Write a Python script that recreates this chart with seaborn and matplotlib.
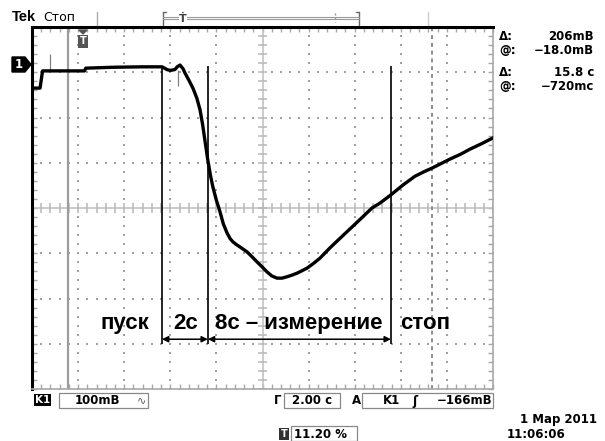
import numpy as np
import pandas as pd
import seaborn as sns
import matplotlib.pyplot as plt
from matplotlib.patches import Rectangle, Polygon
from matplotlib.lines import Line2D

# осциллограмма: 2 с/дел по горизонтали, 100 мВ/дел по вертикали
time_s = [0.0, 0.35, 0.42, 0.46, 2.28, 2.33, 3.5, 4.8, 5.64, 5.75, 5.85, 6.0,
          6.2, 6.3, 6.42, 6.55, 6.64, 6.8, 6.98, 7.15, 7.29, 7.40, 7.50, 7.63,
          7.75, 7.85, 8.0, 8.16, 8.3, 8.46, 8.6, 8.72, 8.87, 9.02, 9.33, 9.55,
          9.76, 10.0, 10.19, 10.4, 10.63, 10.85, 11.06, 11.3, 11.5, 11.7, 11.93,
          12.2, 12.49, 12.7, 12.93, 13.3, 13.8, 14.3, 14.75, 15.1, 15.57, 16.1,
          16.61, 17.0, 17.35, 17.7, 18.13, 18.6, 19.0, 19.5, 20.0]
volt_mv = [265, 265, 290, 303, 303, 309, 311, 312, 312, 309, 306, 304,
           306, 312, 316, 308, 298, 283, 265, 243, 217, 185, 150, 105,
           70, 46, 17, -9, -35, -55, -68, -75, -81, -86, -97, -108,
           -119, -131, -141, -150, -155, -155, -152, -148, -144, -139, -133,
           -123, -111, -100, -88, -70, -46, -22, 0, 11, 29, 51,
           70, 80, 88, 97, 108, 119, 130, 142, 155]

# вертикальные линии-разметки фаз и подписи
phase_t = [5.64, 7.63, 15.57]
phase_labels = ['пуск', '2с', '8с – измерение', 'стоп']
phase_label_t = [4.03, 6.68, 11.58, 17.05]

# курсоры прибора (Δ = 15.8 с)
scope_cursor_t = [1.56, 17.36]

readout_left = ['Δ:', '@:', 'Δ:', '@:']
readout_right = ['206mВ', '−18.0mВ', '15.8 с', '−720mс']

W, H = 605, 441


def px(x, y):
    return x / W, 1 - y / H


def fig_line(fig, xs, ys, **kw):
    fx = [x / W for x in xs]
    fy = [1 - y / H for y in ys]
    fig.add_artist(Line2D(fx, fy, transform=fig.transFigure, **kw))


def fig_box(fig, x0, y0, x1, y1, **kw):
    fig.add_artist(Rectangle((x0 / W, 1 - y1 / H), (x1 - x0) / W, (y1 - y0) / H,
                             transform=fig.transFigure, **kw))


sns.set_style('white')
plt.rcParams['font.family'] = ['DejaVu Sans']
plt.rcParams['text.color'] = 'black'

fig = plt.figure(figsize=(6.05, 4.41), dpi=100)
l, b = px(32, 389)
r, t = px(493, 27)
ax = fig.add_axes([l, b, r - l, t - b])
ax.set_xlim(0, 20)
ax.set_ylim(-400, 400)

# сетка из точек
dots_v = np.arange(-400, 401, 20)
dots_t = np.arange(0, 20.01, 0.4)
for gx in range(2, 20, 2):
    if gx != 10:
        ax.scatter(np.full(len(dots_v), gx), dots_v, s=1.6, marker='s', color='#a0a0a0', lw=0)
for gy in range(-300, 301, 100):
    if gy != 0:
        ax.scatter(dots_t, np.full(len(dots_t), gy), s=1.6, marker='s', color='#a0a0a0', lw=0)

# центральные оси с рисками
ax.axhline(0, color='#c4c4c4', lw=1.2, zorder=1)
ax.axvline(10, color='#c4c4c4', lw=1.2, zorder=1)
ax.vlines(dots_t, -10, 10, color='#b8b8b8', lw=1.1, zorder=1)
ax.hlines(dots_v, 9.82, 10.18, color='#b8b8b8', lw=1.1, zorder=1)

# курсоры прибора
ax.axvline(scope_cursor_t[0], color='#9c9c9c', lw=1.6, zorder=1)
ax.axvline(scope_cursor_t[1], color='#8c8c8c', lw=1.4, ls=(0, (2, 2)), zorder=1)

# сигнал
df = pd.DataFrame({'t': time_s, 'v': volt_mv})
sns.lineplot(data=df, x='t', y='v', sort=False, estimator=None, color='black', lw=2.4, ax=ax, zorder=3)
ax.vlines([0.78], 303, 340, color='#808080', lw=0.9)
ax.vlines([6.33], 270, 305, color='#808080', lw=0.9)

# разметка фаз
ax.vlines(phase_t, -301, 314, color='black', lw=1.2, zorder=4)
for a, c in zip(phase_t[:-1], phase_t[1:]):
    ax.annotate('', xy=(a, -290), xytext=(c, -290),
                arrowprops=dict(arrowstyle='<|-|>', color='black', lw=1.1,
                                shrinkA=0, shrinkB=0, mutation_scale=9))
for lt, txt in zip(phase_label_t, phase_labels):
    ax.text(lt, -256, txt, ha='center', va='center', fontsize=16, color='black',
            fontweight='bold', family='Liberation Sans')

# рамка и риски
ax.set_xticks(np.arange(0, 20.01, 2))
ax.set_xticks(dots_t, minor=True)
ax.set_yticks(np.arange(-400, 401, 100))
ax.set_yticks(dots_v, minor=True)
ax.tick_params(which='both', direction='in', top=True, right=True, left=True, bottom=True,
               length=3.5, width=1, color='#a8a8a8', labelbottom=False, labelleft=False)
ax.set_xlabel('')
ax.set_ylabel('')
for side in ['left', 'top']:
    ax.spines[side].set_color('black')
    ax.spines[side].set_linewidth(2.2)
for side in ['right', 'bottom']:
    ax.spines[side].set_color('#a8a8a8')
    ax.spines[side].set_linewidth(1.2)

# маркер запуска и маркер канала
fig.add_artist(Polygon([px(79, 30), px(87, 30), px(83, 34)], closed=True,
                       transform=fig.transFigure, color='#555555'))
fig.text(*px(83, 41.5), 'T', ha='center', va='center', fontsize=7, fontweight='bold', color='white',
         bbox=dict(boxstyle='square,pad=0.15', fc='#555555', ec='none'))
fig.add_artist(Polygon([px(12, 57), px(25, 57), px(31, 64.5), px(25, 72), px(12, 72)], closed=True,
                       transform=fig.transFigure, color='black'))
fig.text(*px(19, 65), '1', ha='center', va='center', fontsize=8.5, fontweight='bold', color='white')

# шапка
fig.text(*px(12, 17), 'Tek', ha='left', va='center', fontsize=10.5, fontweight='bold', family='Liberation Sans')
fig.text(*px(43, 17.5), 'Стоп', ha='left', va='center', fontsize=9, family='DejaVu Sans')
fig_line(fig, [97, 97], [12, 25], color='#aaaaaa', lw=1)
fig_line(fig, [428, 428], [12, 25], color='#cccccc', lw=1)
fig_line(fig, [163, 163], [12, 25], color='#666666', lw=1)
fig_line(fig, [359, 359], [12, 25], color='#666666', lw=1)
fig_line(fig, [163, 166], [12, 12], color='#666666', lw=1)
fig_line(fig, [356, 359], [12, 12], color='#666666', lw=1)
fig_line(fig, [163, 359], [16.5, 16.5], color='#999999', lw=0.8)
fig_line(fig, [163, 359], [18.5, 18.5], color='#999999', lw=0.8)
fig_line(fig, [335, 335], [13, 22], color='#999999', lw=1, ls=(0, (1.5, 1.5)))
fig.text(*px(183, 19), 'Ṫ', ha='center', va='center', fontsize=8, fontweight='bold', color='#444444',
         bbox=dict(boxstyle='square,pad=0.05', fc='white', ec='none'))

# показания курсоров
for i, yy in enumerate([36, 50, 73, 86]):
    fig.text(*px(499, yy), readout_left[i], ha='left', va='center', fontsize=8.5, fontweight='bold')
    fig.text(*px(594, yy), readout_right[i], ha='right', va='center', fontsize=8.5, fontweight='bold')

# нижняя строка состояния
fig.text(*px(42.5, 400), 'K1', ha='center', va='center', fontsize=7.5, fontweight='bold', color='white',
         bbox=dict(boxstyle='square,pad=0.12', fc='black', ec='none'))
fig_box(fig, 59, 393, 148, 408, fill=False, ec='#888888', lw=0.9)
fig.text(*px(75, 400.5), '100mВ', ha='left', va='center', fontsize=8.5, fontweight='bold')
fig.text(*px(142, 400.5), '∿', ha='center', va='center', fontsize=8, color='#555555')
fig.text(*px(278, 401), 'Г', ha='center', va='center', fontsize=8.5, fontweight='bold')
fig_box(fig, 284, 393, 340, 408, fill=False, ec='#888888', lw=0.9)
fig.text(*px(312, 400.5), '2.00 с', ha='center', va='center', fontsize=8.5, fontweight='bold')
fig.text(*px(356, 401), 'A', ha='center', va='center', fontsize=8.5, fontweight='bold')
fig_box(fig, 362, 393, 493, 408, fill=False, ec='#888888', lw=0.9)
fig.text(*px(391, 400.5), 'K1', ha='center', va='center', fontsize=8.5, fontweight='bold')
fig.text(*px(415, 401), 'ʃ', ha='center', va='center', fontsize=9, fontweight='bold')
fig.text(*px(492, 400.5), '−166mВ', ha='right', va='center', fontsize=8.5, fontweight='bold')

fig.text(*px(284, 434), 'T', ha='center', va='center', fontsize=7, fontweight='bold', color='white',
         bbox=dict(boxstyle='square,pad=0.15', fc='#333333', ec='none'))
fig_box(fig, 291, 426, 357, 441, fill=False, ec='#888888', lw=0.9)
fig.text(*px(294, 434), '11.20 %', ha='left', va='center', fontsize=8.5, fontweight='bold')

fig.text(*px(597, 419), '1 Мар 2011', ha='right', va='center', fontsize=8.5, fontweight='bold')
fig.text(*px(507, 434.5), '11:06:06', ha='left', va='center', fontsize=8.5, fontweight='bold')

fig.savefig('out.png', dpi=100)
